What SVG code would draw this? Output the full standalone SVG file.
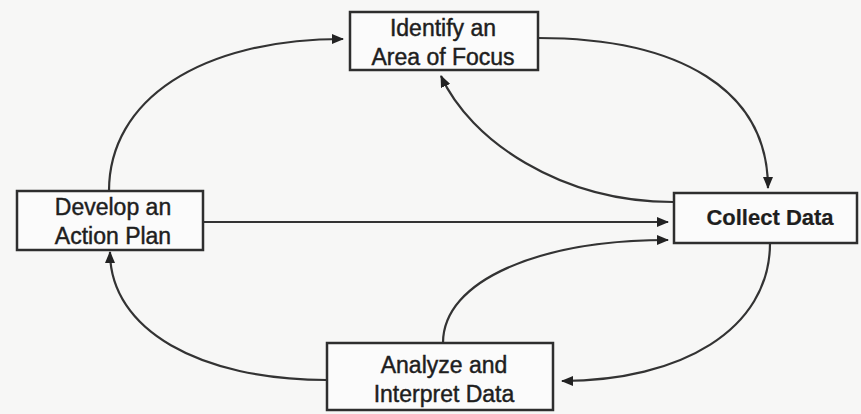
<svg xmlns="http://www.w3.org/2000/svg" width="861" height="414" viewBox="0 0 861 414">
<style>
.box{fill:#fbfbfb;stroke:#2e2e2e;stroke-width:2.5}
.lbl{font-family:"Liberation Sans",Arial,sans-serif;font-size:23px;fill:#1e1e1e;stroke:#1e1e1e;stroke-width:0.45;text-anchor:middle}
.bold{font-weight:bold;font-size:22px;stroke-width:0.2}
.edge{fill:none;stroke:#333;stroke-width:2.2}
</style>
<defs>
<marker id="ah" markerUnits="userSpaceOnUse" markerWidth="12" markerHeight="10" refX="11" refY="5" orient="auto">
<path d="M0,0 L12,5 L0,10 Z" fill="#222"/>
</marker>
</defs>
<rect width="861" height="414" fill="#f7f7f6"/>
<g id="connectors">
<path class="edge" d="M109,191 C109,100 200,39 343,39" marker-end="url(#ah)"/>
<path class="edge" d="M538,38 C680,38 768,90 768,188" marker-end="url(#ah)"/>
<path class="edge" d="M673,202 C560,202 470,140 441,76" marker-end="url(#ah)"/>
<path class="edge" d="M203,222 L668,222" marker-end="url(#ah)"/>
<path class="edge" d="M443,343 C443,280 540,240 668,240" marker-end="url(#ah)"/>
<path class="edge" d="M770,243 C770,330 680,381 562,381" marker-end="url(#ah)"/>
<path class="edge" d="M327,380 C200,380 110,330 110,252" marker-end="url(#ah)"/>
</g>
<g id="identify">
<rect class="box" x="350" y="12" width="188" height="58"/>
<text class="lbl" x="443" y="36">Identify an</text>
<text class="lbl" x="443" y="65">Area of Focus</text>
</g>
<g id="develop">
<rect class="box" x="17" y="191" width="186" height="59"/>
<text class="lbl" x="113" y="215">Develop an</text>
<text class="lbl" x="113" y="244">Action Plan</text>
</g>
<g id="collect">
<rect class="box" x="674" y="193" width="183" height="50"/>
<text class="lbl bold" x="770" y="225">Collect Data</text>
</g>
<g id="analyze">
<rect class="box" x="327" y="343" width="226" height="67"/>
<text class="lbl" x="444" y="373">Analyze and</text>
<text class="lbl" x="444" y="402">Interpret Data</text>
</g>
</svg>
